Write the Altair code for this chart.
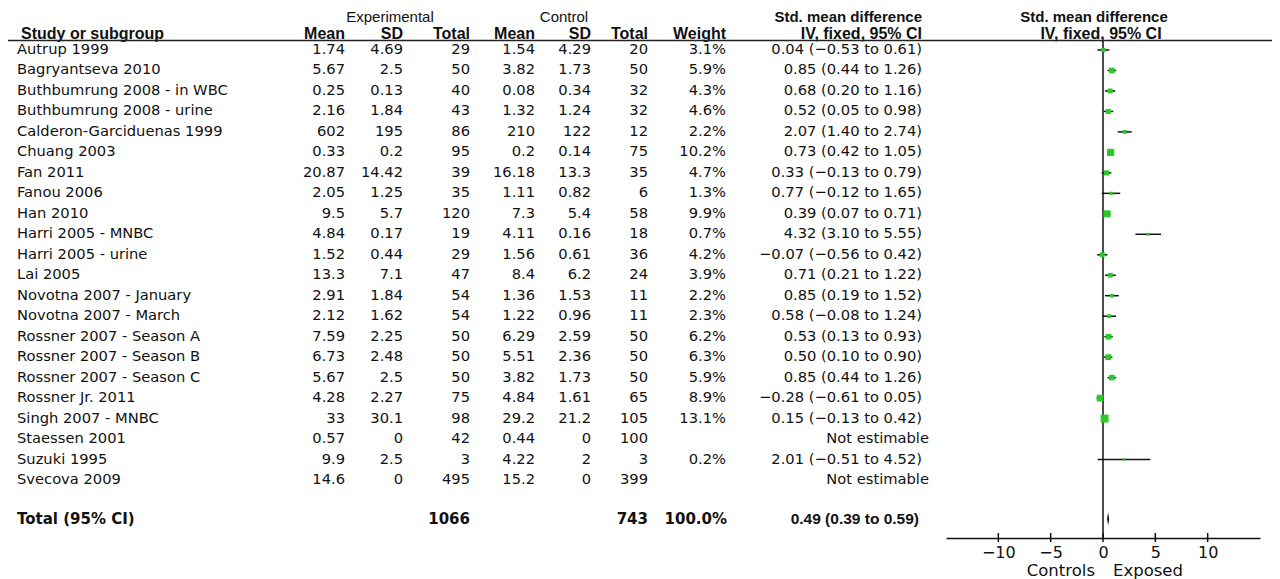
import altair as alt
import pandas as pd

# ---------------- data ----------------
studies = [
    "Autrup 1999", "Bagryantseva 2010", "Buthbumrung 2008 - in WBC",
    "Buthbumrung 2008 - urine", "Calderon-Garciduenas 1999", "Chuang 2003",
    "Fan 2011", "Fanou 2006", "Han 2010", "Harri 2005 - MNBC",
    "Harri 2005 - urine", "Lai 2005", "Novotna 2007 - January",
    "Novotna 2007 - March", "Rossner 2007 - Season A", "Rossner 2007 - Season B",
    "Rossner 2007 - Season C", "Rossner Jr. 2011", "Singh 2007 - MNBC",
    "Staessen 2001", "Suzuki 1995", "Svecova 2009",
]
exp_mean = [1.74, 5.67, 0.25, 2.16, 602, 0.33, 20.87, 2.05, 9.5, 4.84, 1.52, 13.3,
            2.91, 2.12, 7.59, 6.73, 5.67, 4.28, 33, 0.57, 9.9, 14.6]
exp_sd = [4.69, 2.5, 0.13, 1.84, 195, 0.2, 14.42, 1.25, 5.7, 0.17, 0.44, 7.1,
          1.84, 1.62, 2.25, 2.48, 2.5, 2.27, 30.1, 0, 2.5, 0]
exp_total = [29, 50, 40, 43, 86, 95, 39, 35, 120, 19, 29, 47, 54, 54, 50, 50, 50,
             75, 98, 42, 3, 495]
ctrl_mean = [1.54, 3.82, 0.08, 1.32, 210, 0.2, 16.18, 1.11, 7.3, 4.11, 1.56, 8.4,
             1.36, 1.22, 6.29, 5.51, 3.82, 4.84, 29.2, 0.44, 4.22, 15.2]
ctrl_sd = [4.29, 1.73, 0.34, 1.24, 122, 0.14, 13.3, 0.82, 5.4, 0.16, 0.61, 6.2,
           1.53, 0.96, 2.59, 2.36, 1.73, 1.61, 21.2, 0, 2, 0]
ctrl_total = [20, 50, 32, 32, 12, 75, 35, 6, 58, 18, 36, 24, 11, 11, 50, 50, 50,
              65, 105, 100, 3, 399]
weight = [3.1, 5.9, 4.3, 4.6, 2.2, 10.2, 4.7, 1.3, 9.9, 0.7, 4.2, 3.9, 2.2, 2.3,
          6.2, 6.3, 5.9, 8.9, 13.1, None, 0.2, None]
smd = [0.04, 0.85, 0.68, 0.52, 2.07, 0.73, 0.33, 0.77, 0.39, 4.32, -0.07, 0.71,
       0.85, 0.58, 0.53, 0.50, 0.85, -0.28, 0.15, None, 2.01, None]
ci_lo = [-0.53, 0.44, 0.20, 0.05, 1.40, 0.42, -0.13, -0.12, 0.07, 3.10, -0.56, 0.21,
         0.19, -0.08, 0.13, 0.10, 0.44, -0.61, -0.13, None, -0.51, None]
ci_hi = [0.61, 1.26, 1.16, 0.98, 2.74, 1.05, 0.79, 1.65, 0.71, 5.55, 0.42, 1.22,
         1.52, 1.24, 0.93, 0.90, 1.26, 0.05, 0.42, None, 4.52, None]

total_label = "Total (95% CI)"
total_exp = 1066
total_ctrl = 743
total_weight = 100.0
total_smd = 0.49
total_lo = 0.39
total_hi = 0.59

axis_ticks = [-10, -5, 0, 5, 10]

# ---------------- build tables ----------------
def fmt(v):
    return f"{v:.2f}".replace("-", "\u2212")

rows = pd.DataFrame({
    "row": list(range(len(studies))),
    "study": studies,
    "exp_mean": exp_mean, "exp_sd": exp_sd, "exp_total": exp_total,
    "ctrl_mean": ctrl_mean, "ctrl_sd": ctrl_sd, "ctrl_total": ctrl_total,
    "weight": weight, "smd": smd, "lo": ci_lo, "hi": ci_hi,
})
rows["wlabel"] = [f"{w:.1f}%" if w is not None and pd.notna(w) else "" for w in weight]
rows["cilabel"] = [
    f"{fmt(e)} ({fmt(l)} to {fmt(h)})" if e is not None else ""
    for e, l, h in zip(smd, ci_lo, ci_hi)
]
rows["ne"] = ["Not estimable" if e is None else "" for e in smd]
est_rows = rows.dropna(subset=["smd"])

TOTAL_ROW = 22.9
tot = pd.DataFrame({
    "row": [TOTAL_ROW], "label": [total_label], "exp_total": [total_exp],
    "ctrl_total": [total_ctrl], "wlabel": [f"{total_weight:.1f}%"],
    "cilabel": [f"{fmt(total_smd)} ({fmt(total_lo)} to {fmt(total_hi)})"],
})
diamond = pd.DataFrame({"x": [total_lo, total_smd, total_hi], "k": [0, 1, 0]})

# ---------------- styling ----------------
BODY = "DejaVu Sans"
HEAD = "Liberation Sans"
FS = 14.7
TXT = "#111111"
GREEN = "#2bc92b"

yscale = alt.Scale(domain=[-2.0512, 23.8326], reverse=True, nice=False, zero=False)
xscale = alt.Scale(domain=[-15, 15], range=[938, 1252], nice=False, zero=False)
Y = alt.Y("row:Q", scale=yscale, axis=None)


def body_text(df, field, x, align="right", bold=False, font=BODY, size=FS):
    return alt.Chart(df).mark_text(
        align=align, baseline="middle", font=font, fontSize=size, color=TXT,
        fontWeight="bold" if bold else "normal",
    ).encode(x=alt.value(x), y=Y, text=alt.Text(f"{field}:N"))


def head_text(label, x, y, align="right", bold=True, font=HEAD, size=16,
              baseline="alphabetic"):
    return alt.Chart(pd.DataFrame({"t": [label]})).mark_text(
        align=align, baseline=baseline, font=font, fontSize=size, color=TXT,
        fontWeight="bold" if bold else "normal",
    ).encode(x=alt.value(x), y=alt.value(y), text="t:N")


layers = []

# column headers
H1, H2 = 13.7, 31
layers += [
    head_text("Experimental", 382, H1, align="center", bold=False, size=15),
    head_text("Control", 556, H1, align="center", bold=False, size=15),
    head_text("Std. mean difference", 914, H1, size=15),
    head_text("Std. mean difference", 1086, H1, align="center", size=15),
    head_text("Study or subgroup", 13, H2, align="left"),
    head_text("Mean", 337, H2),
    head_text("SD", 395, H2),
    head_text("Total", 462, H2),
    head_text("Mean", 527, H2),
    head_text("SD", 583, H2),
    head_text("Total", 640, H2),
    head_text("Weight", 718, H2),
    head_text("IV, fixed, 95% CI", 914, H2),
    head_text("IV, fixed, 95% CI", 1093, H2, align="center"),
]

# header rule
layers.append(
    alt.Chart(pd.DataFrame({"a": [0]})).mark_rule(color="#222", strokeWidth=1.5)
    .encode(x=alt.value(0), x2=alt.value(1264), y=alt.value(32.5))
)

# study rows
layers.append(body_text(rows, "study", 9, align="left"))
for field, xpos in [("exp_mean", 337), ("exp_sd", 395), ("exp_total", 462),
                    ("ctrl_mean", 527), ("ctrl_sd", 583), ("ctrl_total", 640),
                    ("wlabel", 718), ("cilabel", 914), ("ne", 921)]:
    layers.append(body_text(rows, field, xpos))

# total row
layers.append(body_text(tot, "label", 9, align="left", bold=True, size=15))
for field, xpos in [("exp_total", 462), ("ctrl_total", 640), ("wlabel", 719)]:
    layers.append(body_text(tot, field, xpos, bold=True, size=15))
layers.append(body_text(tot, "cilabel", 911, bold=True, font=HEAD, size=15.5))

# zero line
layers.append(
    alt.Chart(pd.DataFrame({"z": [0]})).mark_rule(color="#111", strokeWidth=1.5)
    .encode(x=alt.X("z:Q", scale=xscale, title=None), y=alt.value(32.5), y2=alt.value(530))
)

# CI lines
layers.append(
    alt.Chart(est_rows).mark_rule(color="#111", strokeWidth=1.5).encode(
        x=alt.X("lo:Q", scale=xscale, title=None,
                axis=alt.Axis(values=axis_ticks, ticks=False, labelPadding=6,
                              domainColor="#111", domainWidth=1.5, grid=False,
                              labelFont=BODY, labelFontSize=16, labelColor=TXT,
                              title=None)),
        x2="hi:Q", y=Y,
    )
)

# squares
layers.append(
    alt.Chart(est_rows).mark_square(filled=True, color=GREEN, opacity=1).encode(
        x=alt.X("smd:Q", scale=xscale, title=None), y=Y,
        size=alt.Size("weight:Q", scale=alt.Scale(domain=[0, 13.1], range=[5, 64]),
                      legend=None),
    )
)

# diamond for total
layers.append(
    alt.Chart(diamond).mark_area(color="#111", opacity=1).transform_calculate(
        y1=f"{TOTAL_ROW} - 0.34 * datum.k", y2=f"{TOTAL_ROW} + 0.34 * datum.k"
    ).encode(
        x=alt.X("x:Q", scale=xscale, title=None),
        y=alt.Y("y1:Q", scale=yscale, axis=None), y2="y2:Q",
    )
)

# axis ticks crossing the axis line
layers.append(
    alt.Chart(pd.DataFrame({"t": axis_ticks})).mark_rule(color="#111", strokeWidth=1.5)
    .encode(x=alt.X("t:Q", scale=xscale, title=None), y=alt.value(525), y2=alt.value(534))
)

# axis captions
layers.append(head_text("Controls", 1087, 568, align="right", bold=False, font=BODY,
                        size=16.5))
layers.append(head_text("Exposed", 1105, 568, align="left", bold=False, font=BODY,
                        size=16.5))

chart = alt.layer(*layers).properties(
    width=1264, height=530,
    padding={"left": 0, "top": 0, "right": 0, "bottom": 41},
    autosize="none",
).configure_view(stroke=None)

chart.save("out.html", embed_options={"renderer": "svg", "actions": False})
